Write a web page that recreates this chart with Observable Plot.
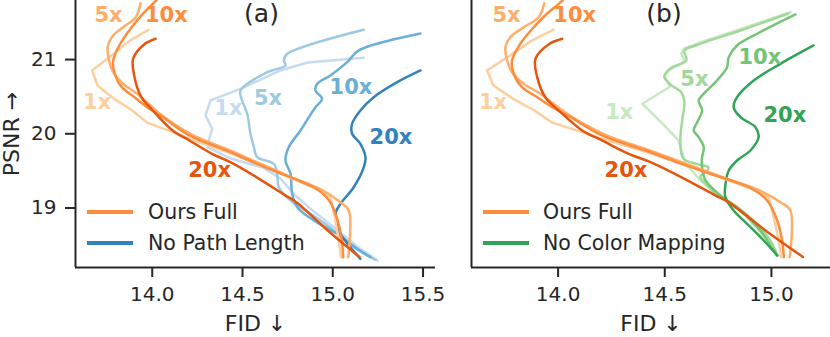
<!DOCTYPE html>
<html><head><meta charset="utf-8">
<script src="https://cdn.jsdelivr.net/npm/d3@7"></script>
<script src="https://cdn.jsdelivr.net/npm/@observablehq/plot@0.6"></script>
<style>
body{margin:0;background:#fff;}
#wrap{position:relative;width:830px;height:337px;overflow:hidden;font-family:"DejaVu Sans";background:#fff;}
.panel{position:absolute;top:0;}
.leg{position:absolute;font:20.5px "DejaVu Sans";color:#262626;white-space:nowrap;transform:translateY(-50%);line-height:1;}
.legline{position:absolute;height:4px;transform:translateY(-50%);}
</style></head><body><div id="wrap"></div><script>
// ---- ticks / domains ----
const xTicksA = [14.0, 14.5, 15.0, 15.5];
const xTicksB = [14.0, 14.5, 15.0];
const yTicks = [19, 20, 21];
const xDomainA = [13.575, 15.569];
const xDomainB = [13.594, 15.277];
const yDomain = [18.198, 21.796];

// ---- series names / colours ----
const scaleNames = ["1x", "5x", "10x", "20x"];
const oranges = ["#fdcf9f", "#fdae6b", "#fd8d3c", "#e6550d"];
const blues = ["#c6dbef", "#9ecae1", "#6baed6", "#3182bd"];
const greens = ["#c7e9c0", "#a1d99b", "#74c476", "#31a354"];
const legendA = ["Ours Full", "No Path Length"];
const legendB = ["Ours Full", "No Color Mapping"];
const legendColorsA = ["#fd8d3c", "#3182bd"];
const legendColorsB = ["#fd8d3c", "#31a354"];

// ---- Ours Full: [FID, PSNR] ----
const ours1x = [[13.979,21.402],[13.870,21.245],[13.772,21.05],[13.667,20.853],[13.697,20.651],[13.79,20.47],[13.889,20.314],[13.972,20.150],[14.113,20.022],[14.21,19.93],[14.42,19.75],[14.57,19.60],[14.70,19.48],[14.83,19.34],[14.925,19.236],[14.987,19.146],[15.011,18.876],[15.034,18.562],[15.045,18.337]];
const ours5x = [[13.935,21.76],[13.909,21.571],[13.839,21.437],[13.776,21.302],[13.753,21.167],[13.761,20.988],[13.784,20.830],[13.839,20.674],[13.917,20.539],[13.979,20.404],[14.042,20.270],[14.120,20.135],[14.23,19.975],[14.43,19.775],[14.573,19.625],[14.776,19.41],[14.933,19.25],[15.042,19.078],[15.089,18.966],[15.086,18.337]];
const ours10x = [[14.04,21.85],[14.003,21.75],[13.948,21.617],[13.886,21.437],[13.823,21.213],[13.784,20.988],[13.792,20.809],[13.831,20.628],[13.902,20.493],[13.972,20.358],[14.058,20.224],[14.20,19.985],[14.42,19.765],[14.58,19.595],[14.70,19.475],[14.82,19.36],[14.909,19.259],[14.980,19.101],[15.027,18.832],[15.050,18.562],[15.058,18.337]];
const ours20x = [[14.019,21.280],[13.955,21.204],[13.894,21.011],[13.902,20.763],[13.940,20.493],[14.003,20.314],[14.113,20.044],[14.206,19.910],[14.331,19.730],[14.433,19.617],[14.581,19.41],[14.737,19.17],[14.800,19.075],[14.972,18.697],[15.148,18.34]];

// ---- No Path Length ----
const noPath1x = [[15.172,21.024],[14.86,20.96],[14.71,20.853],[14.489,20.606],[14.323,20.449],[14.295,20.247],[14.332,20.067],[14.313,19.910],[14.305,19.819],[14.434,19.667],[14.611,19.546],[14.710,19.398],[14.793,19.168],[14.888,18.966],[15.015,18.724],[15.142,18.468],[15.248,18.292]];
const noPath5x = [[15.172,21.402],[14.748,21.078],[14.729,20.988],[14.738,20.920],[14.637,20.830],[14.489,20.584],[14.498,20.449],[14.526,20.270],[14.544,20.000],[14.563,19.819],[14.581,19.685],[14.673,19.596],[14.692,19.461],[14.701,19.280],[14.766,19.101],[14.877,18.922],[15.006,18.697],[15.116,18.472],[15.236,18.302]];
const noPath10x = [[15.486,21.352],[15.144,21.123],[15.080,20.965],[14.987,20.786],[14.914,20.674],[14.904,20.584],[14.941,20.472],[14.904,20.358],[14.821,20.044],[14.756,19.819],[14.738,19.640],[14.766,19.461],[14.775,19.191],[14.803,19.011],[14.895,18.832],[15.024,18.652],[15.135,18.450],[15.209,18.337]];
const noPath20x = [[15.486,20.853],[15.357,20.695],[15.227,20.493],[15.153,20.314],[15.107,20.135],[15.107,20.000],[15.153,19.865],[15.181,19.685],[15.172,19.550],[15.116,19.280],[15.043,19.057],[15.015,18.922],[15.043,18.652],[15.098,18.472],[15.153,18.315]];

// ---- No Color Mapping ----
const noColor1x = [[15.089,21.639],[14.878,21.433],[14.667,21.230],[14.592,21.150],[14.578,21.082],[14.592,20.974],[14.517,20.853],[14.498,20.772],[14.526,20.637],[14.395,20.404],[14.489,20.139],[14.564,19.910],[14.597,19.600],[14.667,19.371],[14.761,19.168],[14.878,18.899],[14.972,18.589],[15.028,18.360]];
const noColor5x = [[15.080,21.621],[14.855,21.392],[14.644,21.190],[14.592,21.123],[14.601,20.988],[14.526,20.880],[14.498,20.772],[14.526,20.664],[14.578,20.557],[14.592,20.422],[14.583,20.206],[14.573,19.910],[14.587,19.667],[14.658,19.586],[14.705,19.546],[14.691,19.478],[14.667,19.425],[14.723,19.236],[14.831,19.034],[14.925,18.805],[14.995,18.562],[15.028,18.360]];
const noColor10x = [[15.113,21.608],[14.933,21.348],[14.839,21.190],[14.800,21.032],[14.792,20.898],[14.745,20.718],[14.675,20.516],[14.659,20.449],[14.675,20.314],[14.652,20.156],[14.636,20.044],[14.659,19.954],[14.683,19.819],[14.675,19.685],[14.675,19.550],[14.691,19.371],[14.761,19.168],[14.855,18.966],[14.948,18.697],[15.005,18.454],[15.028,18.360]];
const noColor20x = [[15.198,21.190],[15.042,20.943],[14.917,20.718],[14.839,20.493],[14.823,20.358],[14.855,20.224],[14.925,20.089],[14.940,19.954],[14.902,19.775],[14.839,19.640],[14.800,19.505],[14.784,19.303],[14.784,19.146],[14.823,18.966],[14.886,18.787],[14.964,18.562],[15.027,18.360]];

// ---- inline label positions [FID, PSNR] ----
const oursLabelPos = [[13.695,20.422],[13.758,21.594],[14.078,21.594],[14.318,19.505]];
const noPathLabelPos = [[14.422,20.341],[14.641,20.476],[15.101,20.624],[15.322,19.950]];
const noColorLabelPos = [[14.287,20.287],[14.639,20.741],[14.946,21.032],[15.063,20.247]];

const ours = [ours1x, ours5x, ours10x, ours20x];
const noPath = [noPath1x, noPath5x, noPath10x, noPath20x];
const noColor = [noColor1x, noColor5x, noColor10x, noColor20x];

const INK = "#262626";

function seriesMarks(group, colors) {
  return group.map((pts, i) => Plot.line(pts, {
    x: d => d[0], y: d => d[1], stroke: colors[i], strokeWidth: 2.5,
    curve: i === 0 ? "linear" : "catmull-rom", clip: true, strokeLinejoin: "round"
  }));
}
function labelMarks(pos, colors) {
  const rows = pos.map((p, i) => ({fid: p[0], psnr: p[1], t: scaleNames[i], c: colors[i]}));
  return Plot.text(rows, {x: "fid", y: "psnr", text: "t", fill: "c", fontWeight: "bold", fontSize: 21, fontFamily: "DejaVu Sans", lineAnchor: "middle"});
}

function panel({width, marginLeft, marginRight, xDomain, xTicks, showY, other, otherColors, otherLabels, title, titleDx}) {
  const marks = [
    Plot.ruleX([xDomain[0]], {stroke: INK, strokeWidth: 2}),
    Plot.ruleY([yDomain[0]], {stroke: INK, strokeWidth: 2}),
    Plot.axisX(xTicks, {tickSize: 10, tickPadding: 9, strokeWidth: 2, fontSize: 20, tickFormat: d3.format(".1f"), label: null, stroke: INK, fill: INK}),
    ...seriesMarks(other, otherColors),
    ...seriesMarks(ours, oranges),
    labelMarks(otherLabels, otherColors),
    labelMarks(oursLabelPos, oranges),
    Plot.text([title], {frameAnchor: "top", textAnchor: "middle", lineAnchor: "middle", dx: titleDx, dy: 13, text: d => d, fontSize: 25, fill: INK}),
    Plot.text(["FID ↓"], {frameAnchor: "bottom", textAnchor: "middle", lineAnchor: "middle", dy: 56, text: d => d, fontSize: 22, fill: INK})
  ];
  if (showY) {
    marks.push(Plot.axisY(yTicks, {tickSize: 10, tickPadding: 9, strokeWidth: 2, fontSize: 20, tickFormat: d3.format("d"), label: null, stroke: INK, fill: INK}));
    marks.push(Plot.text(["PSNR →"], {frameAnchor: "left", textAnchor: "middle", lineAnchor: "middle", dx: -64, rotate: -90, text: d => d, fontSize: 22, fill: INK}));
  }
  return Plot.plot({
    width, height: 337, marginLeft, marginRight, marginTop: 0, marginBottom: 70,
    style: {fontFamily: "DejaVu Sans", fontSize: "20px", color: INK, background: "transparent", overflow: "visible"},
    x: {domain: xDomain},
    y: {domain: yDomain, axis: showY ? undefined : null},
    marks
  });
}

const wrap = document.getElementById("wrap");
function place(el, left, width) {
  const d = document.createElement("div");
  d.className = "panel"; d.style.left = left + "px"; d.style.width = width + "px";
  d.appendChild(el); wrap.appendChild(d);
}
place(panel({width: 440, marginLeft: 75, marginRight: 5, xDomain: xDomainA, xTicks: xTicksA, showY: true,
  other: noPath, otherColors: blues, otherLabels: noPathLabelPos, title: "(a)", titleDx: 6}), 0, 440);
place(panel({width: 415, marginLeft: 56, marginRight: 0, xDomain: xDomainB, xTicks: xTicksB, showY: false,
  other: noColor, otherColors: greens, otherLabels: noColorLabelPos, title: "(b)", titleDx: 13}), 415, 415);

function legend(names, colors, lineX, textX) {
  const ys = [211.7, 242.7];
  names.forEach((n, i) => {
    const l = document.createElement("div");
    l.className = "legline";
    l.style.left = lineX + "px"; l.style.top = ys[i] + "px"; l.style.width = "46px"; l.style.background = colors[i];
    wrap.appendChild(l);
    const t = document.createElement("div");
    t.className = "leg"; t.textContent = n;
    t.style.left = textX + "px"; t.style.top = ys[i] + "px";
    wrap.appendChild(t);
  });
}
legend(legendA, legendColorsA, 87, 148);
legend(legendB, legendColorsB, 483, 543);
</script></body></html>
